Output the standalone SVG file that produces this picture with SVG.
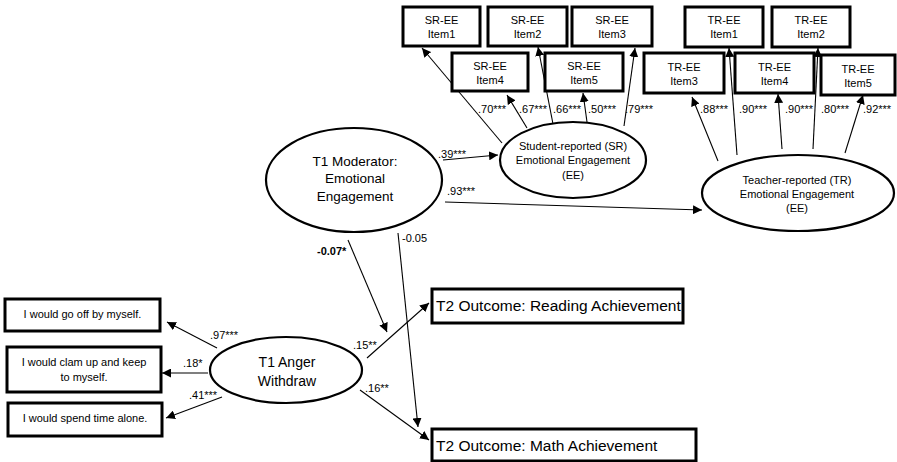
<svg xmlns="http://www.w3.org/2000/svg" width="897" height="462" viewBox="0 0 897 462">
<defs>
<marker id="ah" viewBox="0 0 10 10" refX="10" refY="5" markerWidth="9" markerHeight="9" markerUnits="userSpaceOnUse" orient="auto"><path d="M0,0 L10,5 L0,10 z" fill="#000"/></marker>
<style>
text{font-family:"Liberation Sans",Arial,sans-serif;fill:#000}
.box{fill:#fff;stroke:#000;stroke-width:3}
.ell{fill:#fff;stroke:#000;stroke-width:2.2}
.sm{font-size:11px;text-anchor:middle}
.big{font-size:13.5px;text-anchor:middle}
.mid{font-size:14px;text-anchor:middle}
.t2{font-size:15.5px}
.lab{font-size:11px}
.cn line{stroke:#000;stroke-width:1.1;marker-end:url(#ah)}
</style>
</defs>
<rect width="897" height="462" fill="#fff"/>
<g class="cn" id="connectors">
<line x1="502" y1="143" x2="422" y2="48"/>
<line x1="527" y1="128" x2="507" y2="95"/>
<line x1="553" y1="124" x2="538" y2="47"/>
<line x1="587" y1="122" x2="583" y2="93"/>
<line x1="624" y1="126" x2="635" y2="48"/>
<line x1="718" y1="161" x2="692" y2="97"/>
<line x1="737" y1="155" x2="729" y2="48"/>
<line x1="782" y1="149" x2="778" y2="94"/>
<line x1="813" y1="149" x2="818" y2="48"/>
<line x1="845" y1="153" x2="863" y2="95"/>
<line x1="443" y1="160" x2="498" y2="155"/>
<line x1="445" y1="202" x2="702" y2="210"/>
<line x1="348" y1="240" x2="387" y2="332"/>
<line x1="398" y1="233" x2="418" y2="427"/>
<line x1="367" y1="358" x2="429" y2="303"/>
<line x1="360" y1="390" x2="429" y2="440"/>
<line x1="217" y1="348" x2="167" y2="322"/>
<line x1="208" y1="373" x2="162" y2="373"/>
<line x1="222" y1="397" x2="166" y2="418"/>
</g>
<g id="labels" class="lab">
<text x="478" y="113">.70***</text>
<text x="519" y="113">.67***</text>
<text x="553" y="113">.66***</text>
<text x="588" y="113">.50***</text>
<text x="625" y="113">.79***</text>
<text x="700" y="113">.88***</text>
<text x="739" y="113">.90***</text>
<text x="785" y="113">.90***</text>
<text x="821" y="113">.80***</text>
<text x="863" y="113">.92***</text>
<text x="438" y="158">.39***</text>
<text x="447" y="195">.93***</text>
<text x="317" y="255" font-weight="bold">-0.07*</text>
<text x="402" y="242">-0.05</text>
<text x="353" y="349">.15**</text>
<text x="365" y="392">.16**</text>
<text x="210" y="339">.97***</text>
<text x="183" y="367">.18*</text>
<text x="189" y="399">.41***</text>
</g>
<g id="sr1"><rect class="box" x="403" y="7" width="77" height="39"/><text class="sm" x="441.5" y="24">SR-EE</text><text class="sm" x="441.5" y="38">Item1</text></g>
<g id="sr2"><rect class="box" x="488" y="7" width="79" height="39"/><text class="sm" x="527.5" y="24">SR-EE</text><text class="sm" x="527.5" y="38">Item2</text></g>
<g id="sr3"><rect class="box" x="572" y="7" width="80" height="39"/><text class="sm" x="612" y="24">SR-EE</text><text class="sm" x="612" y="38">Item3</text></g>
<g id="sr4"><rect class="box" x="452" y="53" width="76" height="38"/><text class="sm" x="490" y="70">SR-EE</text><text class="sm" x="490" y="84">Item4</text></g>
<g id="sr5"><rect class="box" x="545" y="53" width="78" height="38"/><text class="sm" x="584" y="70">SR-EE</text><text class="sm" x="584" y="84">Item5</text></g>
<g id="tr1"><rect class="box" x="685" y="7" width="78" height="40"/><text class="sm" x="724" y="24">TR-EE</text><text class="sm" x="724" y="38">Item1</text></g>
<g id="tr2"><rect class="box" x="772" y="7" width="78" height="40"/><text class="sm" x="811" y="24">TR-EE</text><text class="sm" x="811" y="38">Item2</text></g>
<g id="tr3"><rect class="box" x="644" y="53" width="80" height="40"/><text class="sm" x="684" y="71">TR-EE</text><text class="sm" x="684" y="85">Item3</text></g>
<g id="tr4"><rect class="box" x="735" y="53" width="79" height="40"/><text class="sm" x="774.5" y="71">TR-EE</text><text class="sm" x="774.5" y="85">Item4</text></g>
<g id="tr5"><rect class="box" x="821" y="55" width="74" height="40"/><text class="sm" x="858" y="73">TR-EE</text><text class="sm" x="858" y="87">Item5</text></g>
<g id="srEE"><ellipse class="ell" cx="573" cy="160" rx="73" ry="38"/><text class="sm" x="573" y="150">Student-reported (SR)</text><text class="sm" x="573" y="164">Emotional Engagement</text><text class="sm" x="573" y="179">(EE)</text></g>
<g id="trEE"><ellipse class="ell" cx="798" cy="193" rx="96" ry="38"/><text class="sm" x="797" y="184">Teacher-reported (TR)</text><text class="sm" x="797" y="198">Emotional Engagement</text><text class="sm" x="797" y="212">(EE)</text></g>
<g id="mod"><ellipse class="ell" cx="354" cy="180" rx="88" ry="52"/><text class="big" x="355" y="166">T1 Moderator:</text><text class="big" x="355" y="183">Emotional</text><text class="big" x="355" y="201">Engagement</text></g>
<g id="anger"><ellipse class="ell" cx="286" cy="370" rx="76" ry="33"/><text class="mid" x="287" y="367">T1 Anger</text><text class="mid" x="287" y="386">Withdraw</text></g>
<g id="i1"><rect class="box" x="5" y="299" width="155" height="32"/><text class="sm" x="82.5" y="318">I would go off by myself.</text></g>
<g id="i2"><rect class="box" x="7" y="347" width="154" height="45"/><text class="sm" x="84" y="366">I would clam up and keep</text><text class="sm" x="84" y="381">to myself.</text></g>
<g id="i3"><rect class="box" x="8" y="403" width="154" height="33"/><text class="sm" x="85" y="422">I would spend time alone.</text></g>
<g id="read"><rect class="box" x="432" y="289" width="251" height="34"/><text class="t2" x="436" y="311">T2 Outcome: Reading Achievement</text></g>
<g id="math"><rect class="box" x="432" y="429" width="264" height="32"/><text class="t2" x="436" y="451">T2 Outcome: Math Achievement</text></g>
</svg>
